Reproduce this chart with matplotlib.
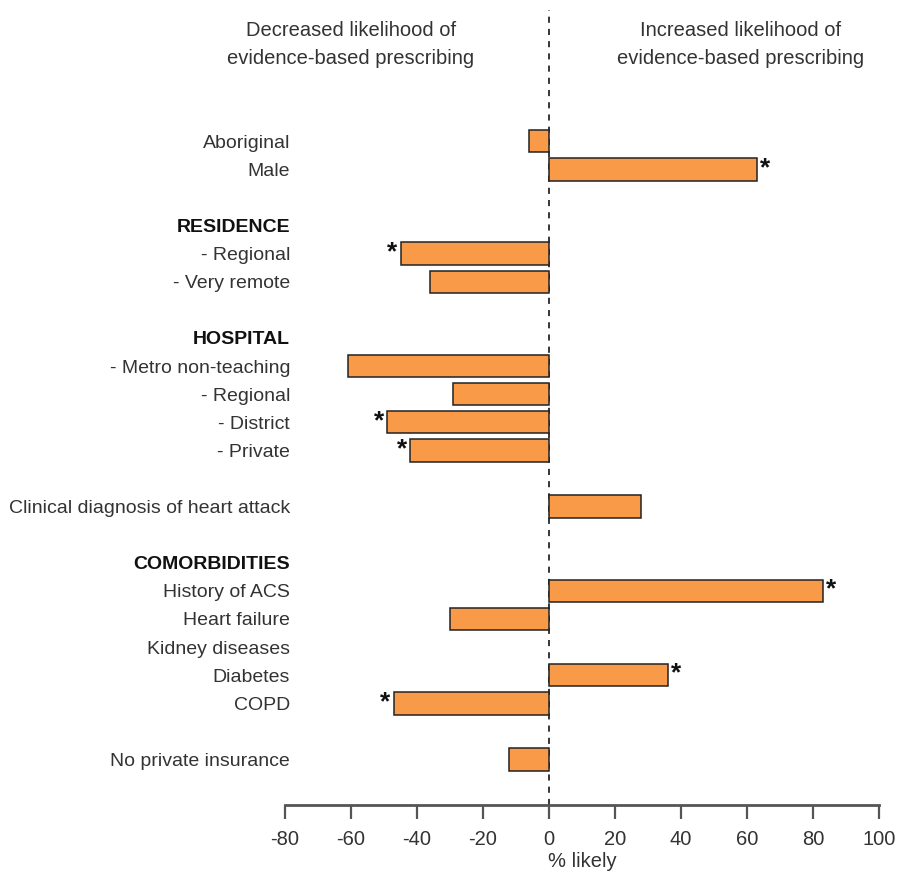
import matplotlib
matplotlib.use("Agg")
import matplotlib.pyplot as plt
from matplotlib.transforms import blended_transform_factory

plt.rcParams['font.family'] = ['Liberation Sans', 'DejaVu Sans']

# Row labels (top to bottom); "" = blank spacer row
labels = ["Aboriginal", "Male", "", "RESIDENCE", "- Regional", "- Very remote", "",
          "HOSPITAL", "- Metro non-teaching", "- Regional", "- District", "- Private", "",
          "Clinical diagnosis of heart attack", "",
          "COMORBIDITIES", "History of ACS", "Heart failure", "Kidney diseases",
          "Diabetes", "COPD", "", "No private insurance"]
headers = ["RESIDENCE", "HOSPITAL", "COMORBIDITIES"]
# % likely values (None = no bar)
values = [-6, 63, None, None, -45, -36, None,
          None, -61, -29, -49, -42, None,
          28, None,
          None, 83, -30, 0, 36, -47, None, -12]
significant = [False, True, False, False, True, False, False,
               False, False, False, True, True, False,
               False, False,
               False, True, False, False, True, True, False, False]
xticks = [-80, -60, -40, -20, 0, 20, 40, 60, 80, 100]

fig = plt.figure(figsize=(8.97, 8.77), dpi=100)
ax = fig.add_axes([285/897, 1 - 805/877, (879-285)/897, (805-10)/877])

bar_color = "#F99A49"
ypos = list(range(len(labels)))
for y, v, s in zip(ypos, values, significant):
    if v is None or v == 0:
        continue
    ax.barh(y, v, height=0.8, color=bar_color, edgecolor="#222222", linewidth=1.1, zorder=2)
    if s:
        off = 1.0 if v > 0 else -1.0
        ax.text(v + off, y - 0.05, "*", ha="left" if v > 0 else "right", va="center",
                fontsize=19, fontweight="bold", color="#111111", zorder=3)

ax.set_xlim(-80, 100)
ax.set_ylim(23.62, -4.67)
ax.axvline(0, color="black", lw=1.1, ls=(0, (4, 4)), zorder=1)

for sp in ["top", "right", "left"]:
    ax.spines[sp].set_visible(False)
ax.spines["bottom"].set_bounds(-80, 100)
ax.spines["bottom"].set_color("#555555")
ax.spines["bottom"].set_linewidth(2)
ax.set_xticks(xticks)
ax.set_xticklabels([str(t) for t in xticks])
ax.tick_params(axis="x", direction="out", length=10, width=1.6, color="#555555",
               labelsize=14.5, labelcolor="#333333", pad=8)
ax.set_yticks([])
ax.set_xlabel("% likely", fontsize=14.5, color="#333333", labelpad=2)

trans = blended_transform_factory(fig.transFigure, ax.transData)
for y, lab in zip(ypos, labels):
    if not lab:
        continue
    ax.text(290/897, y, lab, transform=trans, ha="right", va="center_baseline",
            fontsize=14, color="#111111" if lab in headers else "#333333",
            fontweight="bold" if lab in headers else "normal")

fig.text(351/897, 1 - 44/877, "Decreased likelihood of\nevidence-based prescribing",
         ha="center", va="center", fontsize=14.5, color="#333333", linespacing=1.6)
fig.text(741/897, 1 - 44/877, "Increased likelihood of\nevidence-based prescribing",
         ha="center", va="center", fontsize=14.5, color="#333333", linespacing=1.6)

fig.savefig("out.png", dpi=100)
